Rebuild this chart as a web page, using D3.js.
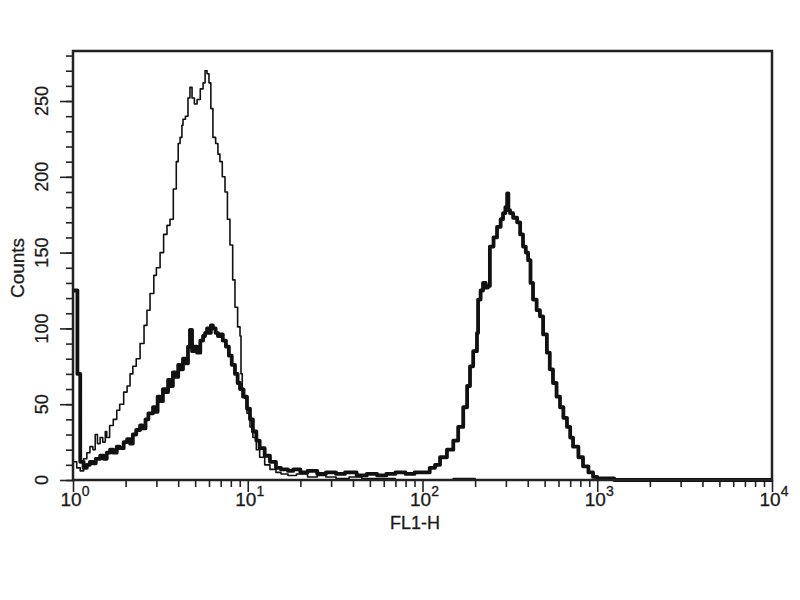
<!DOCTYPE html>
<meta charset="utf-8">
<style>
body { margin: 0; background: #fff; }
text { font-family: "Liberation Sans", Arial, sans-serif; fill: #1a1a1a; stroke: #1a1a1a; stroke-width: 0.3; }
.hist { fill: none; stroke: #111; stroke-linejoin: round; }
.tick line { stroke: #222; stroke-width: 1.6; }
.domain { display: none; }
</style>
<body>
<script src="https://d3js.org/d3.v7.min.js"></script>
<script>
// isotype control (thin line): FL1 value, counts
var thinFL1 = [1.00,1.05,1.10,1.15,1.20,1.25,1.30,1.34,1.38,1.43,1.48,1.53,1.56,1.62,1.70,1.78,1.85,1.95,2.04,2.12,2.20,2.30,2.42,2.55,2.65,2.76,2.90,3.00,3.15,3.30,3.45,3.59,3.75,3.90,4.00,4.10,4.20,4.26,4.40,4.55,4.67,4.80,4.95,5.13,5.35,5.55,5.70,5.85,6.00,6.15,6.32,6.55,6.75,6.93,7.15,7.41,7.65,7.91,8.20,8.45,8.75,9.03,9.15,9.30,9.60,9.90,10.3,10.7,11.2,11.7,12.5,13.4,14.5,15.5,17,19,22,25,28,32,38,45,55,70,100,150,200,10000];
var thinCounts = [12,8,6,14,18,22,20,30,24,28,25,32,28,36,40,46,50,58,62,70,75,80,90,102,112,123,135,140,150,162,168,172,192,210,222,226,234,238,240,252,259,252,248,251,258,262,270,268,262,245,226,222,215,210,200,190,172,155,132,114,101,95,70,60,54,44,35,28,20,15,10,7,5,4,3,4,2,3,2,1,2,1,1,0,0,1,0,0];

// stained sample (thick line)
var thickFL1 = [1.00,1.05,1.06,1.09,1.10,1.15,1.20,1.25,1.30,1.35,1.43,1.50,1.56,1.63,1.70,1.78,1.85,1.95,2.04,2.12,2.20,2.30,2.42,2.50,2.60,2.70,2.87,2.95,3.05,3.15,3.27,3.40,3.50,3.60,3.73,3.85,4.00,4.10,4.26,4.40,4.55,4.67,4.80,4.95,5.13,5.35,5.55,5.70,5.85,6.00,6.15,6.32,6.55,6.75,6.93,7.20,7.50,7.80,8.10,8.45,8.75,9.03,9.40,9.90,10.3,10.7,11.2,11.7,12.5,13.4,14.5,15.5,17,18.2,20,22,25,28,32,36,42,48,55,62,70,80,90,100,110,118,126,138,150,160,171,180,187,195,205,208,215,222,230,237,243,255,267,280,289,298,305,310,317,330,348,362,376,390,402,415,429,450,470,490,515,535,558,585,612,640,671,700,727,780,829,890,946,1000,1137,1250,10000];
var thickCounts = [125,125,70,70,12,8,10,12,11,14,16,14,18,20,18,22,21,25,27,24,30,33,36,34,40,44,48,45,55,52,60,58,66,62,71,68,76,73,80,77,88,99,85,88,84,92,95,97,100,97,102,100,97,95,96,92,88,82,76,70,64,60,55,47,40,32,26,21,16,12,8,7,6,7,5,6,4,5,4,5,3,4,3,4,5,4,5,5,8,10,15,20,26,35,48,62,75,85,97,119,125,130,127,128,154,160,167,172,176,180,189,178,176,173,170,162,154,150,145,130,119,112,108,96,84,73,64,55,48,41,35,28,22,15,9,5,2,1,1,0,0];

var yMajor = [0, 50, 100, 150, 200, 250];
var xDecades = [1, 10, 100, 1000, 10000];
var xExponents = ["0", "1", "2", "3", "4"];

var plotLeft = 73, plotRight = 772, plotTop = 51, plotBottom = 480;

var svg = d3.select("body").append("svg")
    .attr("width", 800)
    .attr("height", 600);

var x = d3.scaleLog().domain([1, 10000]).range([plotLeft, plotRight]);
var y = d3.scaleLinear().domain([0, 283]).range([plotBottom, plotTop]);

// minor ticks
var xMinor = [];
[1, 10, 100, 1000].forEach(function(d) {
    for (var k = 2; k <= 9; k++) xMinor.push(d * k);
});

svg.append("g")
    .attr("transform", "translate(0," + plotBottom + ")")
    .call(d3.axisBottom(x).tickValues(xMinor).tickSize(7).tickFormat(""));
svg.append("g")
    .attr("transform", "translate(0," + plotBottom + ")")
    .call(d3.axisBottom(x).tickValues(xDecades).tickSize(12).tickFormat(""));

svg.append("g")
    .attr("transform", "translate(" + plotLeft + ",0)")
    .call(d3.axisLeft(y).tickValues(d3.range(0, 281, 10)).tickSize(7).tickFormat(""));
svg.append("g")
    .attr("transform", "translate(" + plotLeft + ",0)")
    .call(d3.axisLeft(y).tickValues(yMajor).tickSize(13).tickFormat(""));

// histograms
function series(xs, ys) {
    return xs.map(function(v, i) { return [v, ys[i]]; });
}
var line = d3.line()
    .x(function(d) { return x(d[0]); })
    .y(function(d) { return y(d[1]); })
    .curve(d3.curveStepAfter);

svg.append("path")
    .attr("class", "hist")
    .attr("stroke-width", 1.6)
    .attr("d", line(series(thinFL1, thinCounts)));

svg.append("path")
    .attr("class", "hist")
    .attr("stroke-width", 3.8)
    .attr("d", line(series(thickFL1, thickCounts)));

// frame
svg.append("rect")
    .attr("x", plotLeft).attr("y", plotTop)
    .attr("width", plotRight - plotLeft).attr("height", plotBottom - plotTop)
    .attr("fill", "none")
    .attr("stroke", "#222")
    .attr("stroke-width", 2.5);

// y tick labels (rotated)
svg.selectAll(".ylab")
    .data(yMajor)
    .enter().append("text")
    .attr("class", "ylab")
    .attr("transform", function(d) { return "translate(48," + y(d) + ") rotate(-90)"; })
    .attr("text-anchor", "middle")
    .style("font-size", "18px")
    .text(function(d) { return d; });

// x tick labels 10^n
var xl = svg.selectAll(".xlab")
    .data(xDecades)
    .enter().append("text")
    .attr("class", "xlab")
    .attr("x", function(d) { return x(d) + 2; })
    .attr("y", 506)
    .attr("text-anchor", "middle")
    .style("font-size", "19px");
xl.append("tspan").text("10");
xl.append("tspan")
    .attr("dy", -10)
    .style("font-size", "14px")
    .text(function(d, i) { return xExponents[i]; });

svg.append("text")
    .attr("x", 415).attr("y", 529)
    .attr("text-anchor", "middle")
    .style("font-size", "18px")
    .text("FL1-H");

svg.append("text")
    .attr("transform", "translate(24,268) rotate(-90)")
    .attr("text-anchor", "middle")
    .style("font-size", "19px")
    .text("Counts");
</script>
</body>
